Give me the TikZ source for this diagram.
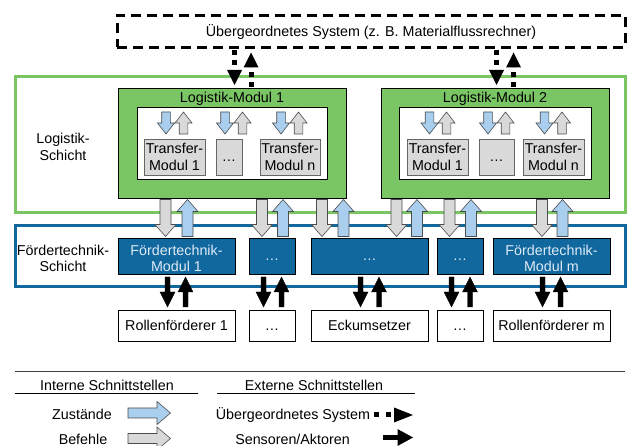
\documentclass[tikz,border=0pt]{standalone}
\usepackage{fontspec}
\setmainfont{Liberation Sans}
\usetikzlibrary{calc}
\definecolor{lgreen}{RGB}{122,198,100}
\definecolor{fblue}{RGB}{16,104,158}
\definecolor{zblue}{RGB}{169,206,238}
\definecolor{bgrey}{RGB}{217,217,217}
\definecolor{ftext}{RGB}{222,234,246}
% block arrow pointing down: style, x, from (upper anchor), to (lower anchor), shaft half, head half, head length, gap
\newcommand\bdown[8]{%
  \draw[#1] let \p1=(#3), \p2=(#4) in
   (#2pt-#5pt,\y1-#8pt) -- (#2pt+#5pt,\y1-#8pt) -- (#2pt+#5pt,\y2+#8pt+#7pt) --
   (#2pt+#6pt,\y2+#8pt+#7pt) -- (#2pt,\y2+#8pt) -- (#2pt-#6pt,\y2+#8pt+#7pt) --
   (#2pt-#5pt,\y2+#8pt+#7pt) -- cycle;}
% block arrow pointing up: style, x, from (lower anchor), to (upper anchor), shaft half, head half, head length, gap
\newcommand\bup[8]{%
  \draw[#1] let \p1=(#3), \p2=(#4) in
   (#2pt-#5pt,\y1+#8pt) -- (#2pt+#5pt,\y1+#8pt) -- (#2pt+#5pt,\y2-#8pt-#7pt) --
   (#2pt+#6pt,\y2-#8pt-#7pt) -- (#2pt,\y2-#8pt) -- (#2pt-#6pt,\y2-#8pt-#7pt) --
   (#2pt-#5pt,\y2-#8pt-#7pt) -- cycle;}
% dotted arrows: x, from, to, start gap, end gap
\newcommand\ddn[5]{%
  \draw[dotshaft] let \p1=(#2), \p2=(#3) in (#1pt,\y1-#4pt) -- (#1pt,\y2+#5pt+15pt);
  \fill let \p1=(#2), \p2=(#3) in (#1pt-7.5pt,\y2+#5pt+15pt) -- (#1pt+7.5pt,\y2+#5pt+15pt) -- (#1pt,\y2+#5pt) -- cycle;}
\newcommand\dup[5]{%
  \draw[dotshaft] let \p1=(#2), \p2=(#3) in (#1pt,\y1+#4pt) -- (#1pt,\y2-#5pt-15pt);
  \fill let \p1=(#2), \p2=(#3) in (#1pt-7.5pt,\y2-#5pt-15pt) -- (#1pt+7.5pt,\y2-#5pt-15pt) -- (#1pt,\y2-#5pt) -- cycle;}
\begin{document}
\begin{tikzpicture}[x=1pt,y=-1pt,
  every node/.style={inner sep=0pt, outer sep=0pt, font=\fontsize{14.3}{17}\selectfont},
  sl/.style={text height=10pt, text depth=0pt},
  ml/.style={align=center},
  ml16/.style={align=center, font=\fontsize{14.3}{16}\selectfont},
  thinbox/.style={draw=black, line width=0.8pt},
  sysbox/.style={draw=black, line width=3pt, dash pattern=on 10pt off 6pt},
  gframe/.style={draw=lgreen, line width=3pt},
  bframe/.style={draw=fblue, line width=3pt},
  lmbox/.style={thinbox, fill=lgreen},
  whitebox/.style={thinbox, fill=white},
  tmbox/.style={draw=black!60, line width=0.8pt, fill=bgrey},
  fmbox/.style={thinbox, fill=fblue, text=ftext},
  zar/.style={fill=zblue, draw=black!70, line width=0.6pt},
  bar/.style={fill=bgrey, draw=black!70, line width=0.6pt},
  blk/.style={fill=black},
  dotshaft/.style={draw=black, line width=5pt, dash pattern=on 5pt off 5pt},
  legline/.style={draw=black!75, line width=1pt},
  underl/.style={draw=black, line width=1.2pt},
]
\useasboundingbox (0,0) rectangle (627,446);

% layer frames
\node[gframe, minimum width=610pt, minimum height=136pt] (lsch) at (320,145) {};
\node[ml] (lschl) at (63,147) {Logistik-\\Schicht};
\node[bframe, minimum width=610pt, minimum height=61pt] (fsch) at (320,256.5) {};
\node[ml16] (fschl) at (63,258) {Fördertechnik-\\Schicht};

% superordinate system
\node[sysbox, sl, minimum width=508pt, minimum height=32pt] (sys) at (371,31.5) {Übergeordnetes System (z. B. Materialflussrechner)};

% logistics module 1
\node[lmbox, minimum width=228pt, minimum height=110pt] (lm1) at (232,143) {};
\node[sl] (lm1t) at (232,98) {Logistik-Modul 1};
\node[whitebox, minimum width=190pt, minimum height=72pt] (lm1i) at (232,143) {};
\node[tmbox, ml, minimum width=61pt, minimum height=36pt] (tm11) at (174.5,157) {Transfer-\\Modul 1};
\node[tmbox, sl, minimum width=26pt, minimum height=36pt] (tm1d) at (229,157) {…};
\node[tmbox, ml, minimum width=60pt, minimum height=36pt] (tm1n) at (290,157) {Transfer-\\Modul n};

% logistics module 2
\node[lmbox, minimum width=228pt, minimum height=110pt] (lm2) at (495,143) {};
\node[sl] (lm2t) at (495,98) {Logistik-Modul 2};
\node[whitebox, minimum width=192pt, minimum height=72pt] (lm2i) at (495,143) {};
\node[tmbox, ml, minimum width=61pt, minimum height=36pt] (tm21) at (437.5,157) {Transfer-\\Modul 1};
\node[tmbox, sl, minimum width=35pt, minimum height=36pt] (tm2d) at (496.5,157) {…};
\node[tmbox, ml, minimum width=61pt, minimum height=36pt] (tm2n) at (553.5,157) {Transfer-\\Modul n};

% small internal arrows
\bdown{zar}{166}{lm1i.north}{tm11.north}{4.3}{8.5}{11}{5}
\bup{bar}{183.5}{tm11.north}{lm1i.north}{4.3}{8.5}{11}{5}
\bdown{zar}{225}{lm1i.north}{tm1d.north}{4.3}{8.5}{11}{5}
\bup{bar}{242.5}{tm1d.north}{lm1i.north}{4.3}{8.5}{11}{5}
\bdown{zar}{281}{lm1i.north}{tm1n.north}{4.3}{8.5}{11}{5}
\bup{bar}{298.5}{tm1n.north}{lm1i.north}{4.3}{8.5}{11}{5}
\bdown{zar}{429.5}{lm2i.north}{tm21.north}{4.3}{8.5}{11}{5}
\bup{bar}{446.5}{tm21.north}{lm2i.north}{4.3}{8.5}{11}{5}
\bdown{zar}{488}{lm2i.north}{tm2d.north}{4.3}{8.5}{11}{5}
\bup{bar}{505.5}{tm2d.north}{lm2i.north}{4.3}{8.5}{11}{5}
\bdown{zar}{544.5}{lm2i.north}{tm2n.north}{4.3}{8.5}{11}{5}
\bup{bar}{562}{tm2n.north}{lm2i.north}{4.3}{8.5}{11}{5}

% conveyor technology modules
\node[fmbox, minimum width=117pt, minimum height=36pt] (fm1) at (176.5,256) {};
\node[ml16, text=ftext] (fm1t) at (176.5,258) {Fördertechnik-\\Modul 1};
\node[fmbox, sl, minimum width=46pt, minimum height=36pt] (fmd1) at (272,256) {…};
\node[fmbox, sl, minimum width=117pt, minimum height=36pt] (fmd2) at (369.5,256) {…};
\node[fmbox, sl, minimum width=46pt, minimum height=36pt] (fmd3) at (460,256) {…};
\node[fmbox, minimum width=117pt, minimum height=36pt] (fmm) at (551.5,256) {};
\node[ml16, text=ftext] (fmmt) at (551.5,258) {Fördertechnik-\\Modul m};

% field devices
\node[whitebox, sl, minimum width=117pt, minimum height=31pt] (rf1) at (176.5,325.5) {Rollenförderer 1};
\node[whitebox, sl, minimum width=46pt, minimum height=31pt] (bd1) at (272,325.5) {…};
\node[whitebox, sl, minimum width=117pt, minimum height=31pt] (eck) at (369.5,325.5) {Eckumsetzer};
\node[whitebox, sl, minimum width=46pt, minimum height=31pt] (bd2) at (460,325.5) {…};
\node[whitebox, sl, minimum width=117pt, minimum height=31pt] (rfm) at (551.5,325.5) {Rollenförderer m};

% interface arrows logistics <-> conveyor technology
\bdown{bar}{165.5}{lm1.south}{fm1.north}{5.5}{10.5}{12}{1.5}
\bup{zar}{187.5}{fm1.north}{lm1.south}{5.5}{10.5}{12}{1.5}
\bdown{bar}{262}{lm1.south}{fmd1.north}{5.5}{10.5}{12}{1.5}
\bup{zar}{283}{fmd1.north}{lm1.south}{5.5}{10.5}{12}{1.5}
\bdown{bar}{322}{lm1.south}{fmd2.north}{5.5}{10.5}{12}{1.5}
\bup{zar}{343.5}{fmd2.north}{lm1.south}{5.5}{10.5}{12}{1.5}
\bdown{bar}{396.5}{lm2.south}{fmd2.north}{5.5}{10.5}{12}{1.5}
\bup{zar}{417}{fmd2.north}{lm2.south}{5.5}{10.5}{12}{1.5}
\bdown{bar}{449.5}{lm2.south}{fmd3.north}{5.5}{10.5}{12}{1.5}
\bup{zar}{471}{fmd3.north}{lm2.south}{5.5}{10.5}{12}{1.5}
\bdown{bar}{542}{lm2.south}{fmm.north}{5.5}{10.5}{12}{1.5}
\bup{zar}{562.5}{fmm.north}{lm2.south}{5.5}{10.5}{12}{1.5}

% sensor / actuator arrows
\bdown{blk}{167.5}{fm1.south}{rf1.north}{2.5}{7.5}{15}{3}
\bup{blk}{185.5}{rf1.north}{fm1.south}{2.5}{7.5}{15}{3}
\bdown{blk}{263.5}{fmd1.south}{bd1.north}{2.5}{7.5}{15}{3}
\bup{blk}{281.5}{bd1.north}{fmd1.south}{2.5}{7.5}{15}{3}
\bdown{blk}{360.5}{fmd2.south}{eck.north}{2.5}{7.5}{15}{3}
\bup{blk}{379}{eck.north}{fmd2.south}{2.5}{7.5}{15}{3}
\bdown{blk}{451.5}{fmd3.south}{bd2.north}{2.5}{7.5}{15}{3}
\bup{blk}{470}{bd2.north}{fmd3.south}{2.5}{7.5}{15}{3}
\bdown{blk}{542.5}{fmm.south}{rfm.north}{2.5}{7.5}{15}{3}
\bup{blk}{560.5}{rfm.north}{fmm.south}{2.5}{7.5}{15}{3}

% superordinate system arrows
\ddn{234.5}{sys.south}{lm1.north}{2.5}{3}
\dup{251}{lm1.north}{sys.south}{0.5}{5}
\ddn{496.5}{sys.south}{lm2.north}{2.5}{3}
\dup{513.5}{lm2.north}{sys.south}{0.5}{5}

% legend
\draw[legline] (15,372) -- (625,372);
\node[sl] (li) at (107,386) {Interne Schnittstellen};
\node[sl] (le) at (314,386) {Externe Schnittstellen};
\draw[underl] (15,393.5) -- (198,393.5);
\draw[underl] (217,393.5) -- (415,393.5);
\node[sl] (lz) at (82,415) {Zustände};
\node[sl] (lb) at (83,439) {Befehle};
\node[sl] (lu) at (293,415) {Übergeordnetes System};
\node[sl] (ls) at (292.5,439) {Sensoren/Aktoren};
\draw[zar] (128,408) -- (157,408) -- (157,401.5) -- (170.5,413) -- (157,424.5) -- (157,418) -- (128,418) -- cycle;
\draw[bar] (128,433.5) -- (157,433.5) -- (157,427) -- (170.5,438.5) -- (157,450) -- (157,443.5) -- (128,443.5) -- cycle;
\fill (374,412.5) rectangle (379,417.5);
\fill (385.5,412.5) rectangle (390.5,417.5);
\fill (394,407.5) -- (413,415) -- (394,422.5) -- cycle;
\fill (383,435) rectangle (398.5,440);
\fill (397.5,429) -- (413,437.5) -- (397.5,446) -- cycle;
\end{tikzpicture}
\end{document}
